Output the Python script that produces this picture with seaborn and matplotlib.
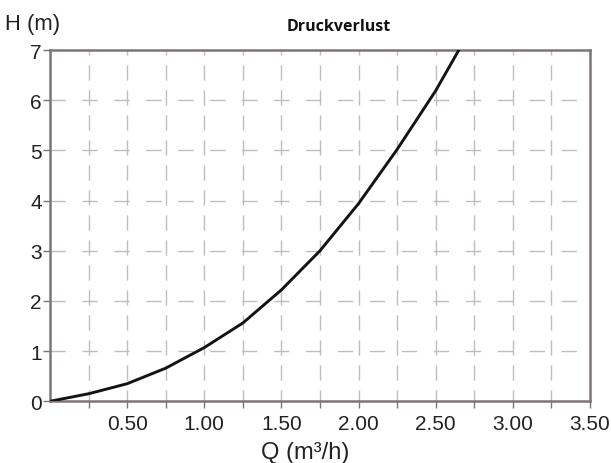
import matplotlib
matplotlib.use("Agg")
import matplotlib.pyplot as plt
import seaborn as sns
import pandas as pd

# Data
flow_q = [0.0, 0.25, 0.50, 0.75, 1.00, 1.25, 1.50, 1.75, 2.00, 2.25, 2.50, 2.65]
head_h = [0.0, 0.15, 0.35, 0.66, 1.07, 1.56, 2.22, 3.00, 3.94, 5.02, 6.19, 7.00]
x_ticks = [0.50, 1.00, 1.50, 2.00, 2.50, 3.00, 3.50]
x_tick_labels = ["0.50", "1.00", "1.50", "2.00", "2.50", "3.00", "3.50"]
x_minor = [0.25, 0.75, 1.25, 1.75, 2.25, 2.75, 3.25]
y_ticks = [0, 1, 2, 3, 4, 5, 6, 7]

sns.set_style("white")
plt.rcParams['font.family'] = ['Liberation Sans', 'DejaVu Sans']

df = pd.DataFrame({"Q": flow_q, "H": head_h})

fig = plt.figure(figsize=(6.11, 4.64), dpi=100)
ax = fig.add_axes([0.0818, 0.133, 0.8838, 0.757])

frame_col = "#7d7575"
grid_col = "#c4bcbc"

# grid
for xv in sorted(x_ticks[:-1] + x_minor):
    ax.axvline(xv, color=grid_col, lw=1.0, ls=(3, (11, 7)), zorder=1)
for yv in y_ticks[1:-1]:
    ax.axhline(yv, color=grid_col, lw=1.0, ls=(0, (11, 12)), zorder=1)

sns.lineplot(data=df, x="Q", y="H", ax=ax, color="#151313", lw=2.1, zorder=3)

ax.set_xlim(0, 3.5)
ax.set_ylim(0, 7)
ax.set_xticks(x_ticks)
ax.set_xticklabels(x_tick_labels)
ax.set_xticks(x_minor, minor=True)
ax.set_yticks(y_ticks)
ax.tick_params(axis="both", which="both", direction="out", length=5, width=1,
               color=frame_col, labelsize=15, labelcolor="#222222")
ax.tick_params(axis="x", pad=4)
ax.tick_params(axis="y", pad=1)
ax.xaxis.set_ticks_position("bottom")
ax.yaxis.set_ticks_position("left")

for s in ax.spines.values():
    s.set_visible(True)
    s.set_color(frame_col)
    s.set_linewidth(1.8)

ax.set_xlabel("")
ax.set_ylabel("")
fig.text(0.5, 0.0097, "Q (m³/h)", fontsize=17, color="#222222", ha="center", va="baseline")
fig.text(0.009, 0.935, "H (m)", fontsize=15.8, color="#222222", ha="left", va="baseline")
fig.text(0.555, 0.942, "Druckverlust", fontsize=11.5, fontweight="bold",
         family=["Open Sans", "DejaVu Sans"], ha="center", va="center", color="#111111")

fig.savefig("out.png", dpi=100)
